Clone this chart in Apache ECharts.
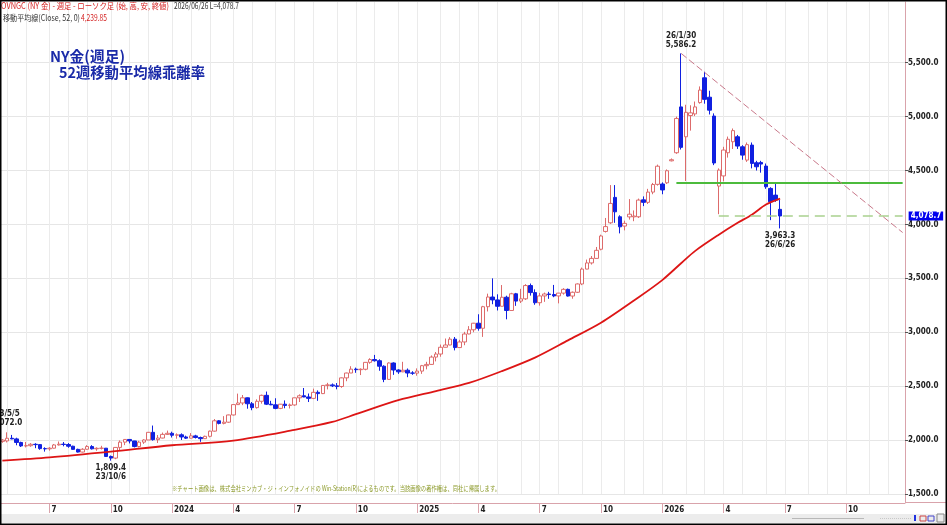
<!DOCTYPE html>
<html>
<head>
<meta charset="utf-8">
<script src="https://cdn.jsdelivr.net/npm/echarts@6.0.0/dist/echarts.min.js"></script>
<style>
  html, body { margin: 0; padding: 0; background: #fff; }
  #chart { width: 947px; height: 525px; }
</style>
</head>
<body>
<div id="chart"></div>
<script>
// weekly bars, first week 2023-04-28, axis runs to end of 2026
var weekCount = 192;
var weeks = [];
for (var k = 0; k < weekCount; k++) {
  weeks.push(new Date(Date.UTC(2023, 3, 28) + k * 7 * 864e5).toISOString().slice(0, 10));
}
var lastWeek = weeks[weeks.length - 1];

// [open, close, low, high]
var candles = [
  [1988,2000,1975,2010],[1992,2017,1978,2072.0],[2017,2011,2008,2048],[2011,1978,1952,2022],
  [1978,1946,1936,1985],[1946,1948,1932,1983],[1948,1961,1938,1972],[1961,1958,1925,1971],
  [1958,1921,1910,1959],[1921,1919,1893,1933],[1919,1925,1902,1935],[1925,1955,1922,1964],
  [1955,1962,1950,1987],[1962,1959,1942,1982],[1959,1943,1929,1972],[1943,1914,1911,1948],
  [1914,1889,1885,1920],[1889,1915,1885,1925],[1915,1940,1912,1953],[1940,1919,1913,1953],
  [1919,1924,1901,1933],[1924,1925,1913,1947],[1925,1848,1846,1926],[1848,1833,1809.4,1857],
  [1833,1932,1823,1933],[1932,1981,1908,1997],[1981,2006,1953,2009],[2006,1992,1969,2009],
  [1992,1940,1932,1993],[1940,1981,1932,1993],[1981,2001,1965,2008],[2001,2072,2001,2075],
  [2072,2004,1995,2135],[2004,2019,1973,2047],[2019,2053,2016,2070],[2053,2063,2047,2088],
  [2063,2045,2024,2078],[2045,2049,2013,2062],[2049,2029,2001,2062],[2029,2018,2010,2041],
  [2018,2039,2016,2065],[2039,2024,2015,2049],[2024,2013,1984,2032],[2013,2035,2011,2041],
  [2035,2083,2025,2088],[2083,2179,2079,2195],[2179,2155,2146,2185],[2155,2166,2146,2222],
  [2166,2233,2160,2236],[2233,2329,2228,2331],[2329,2344,2326,2431],[2344,2392,2324,2418],
  [2392,2337,2291,2395],[2337,2301,2277,2353],[2301,2360,2292,2378],[2360,2415,2338,2422],
  [2415,2333,2325,2450],[2333,2327,2324,2364],[2327,2294,2286,2388],[2294,2333,2287,2335],
  [2333,2321,2295,2368],[2321,2326,2293,2339],[2326,2392,2318,2392],[2392,2411,2353,2424],
  [2411,2400,2398,2483],[2400,2387,2353,2432],[2387,2443,2380,2477],[2443,2431,2364,2461],
  [2431,2507,2427,2509],[2507,2512,2470,2531],[2512,2503,2492,2525],[2503,2497,2471,2529],
  [2497,2577,2485,2581],[2577,2622,2546,2625],[2622,2658,2622,2685],[2658,2653,2624,2672],
  [2653,2657,2603,2665],[2657,2721,2647,2722],[2721,2747,2708,2759],[2747,2736,2728,2790],
  [2736,2685,2643,2749],[2685,2563,2537,2694],[2563,2715,2563,2721],[2715,2650,2605,2721],
  [2650,2633,2614,2657],[2633,2648,2630,2726],[2648,2622,2583,2664],[2622,2621,2605,2639],
  [2621,2640,2597,2665],[2640,2690,2614,2697],[2690,2702,2656,2726],[2702,2770,2698,2785],
  [2770,2798,2730,2817],[2798,2861,2773,2886],[2861,2882,2860,2942],[2882,2936,2880,2955],
  [2936,2858,2832,2956],[2858,2910,2857,2930],[2910,2984,2880,3004],[2984,3023,2982,3057],
  [3023,3084,3000,3087],[3084,3037,3015,3167],[3037,3237,2957,3245],[3237,3327,3193,3358],
  [3327,3300,3260,3500],[3300,3241,3202,3352],[3241,3325,3240,3438],[3325,3202,3120,3339],
  [3202,3357,3200,3366],[3357,3289,3245,3365],[3289,3310,3271,3403],[3310,3433,3300,3446],
  [3433,3368,3340,3452],[3368,3274,3255,3398],[3274,3337,3247,3365],[3337,3355,3282,3368],
  [3355,3350,3310,3375],[3350,3337,3325,3439],[3337,3363,3268,3365],[3363,3398,3349,3409],
  [3398,3336,3331,3405],[3336,3371,3311,3378],[3371,3448,3364,3453],[3448,3586,3437,3600],
  [3586,3643,3584,3674],[3643,3685,3628,3707],[3685,3760,3684,3791],[3770,3893,3760,3905],
  [3935,3980,3925,4060],[4015,4195,4005,4365],[4251,4117,4015,4365],[4071,3978,3917,4085],
  [3985,4010,3945,4035],[4070,4095,4045,4235],[4070,4078,4030,4130],[4071,4226,4060,4240],
  [4228,4205,4170,4260],[4205,4300,4190,4330],[4300,4370,4280,4385],[4372,4540,4360,4555],
  [4375,4320,4280,4390],[4386,4498,4375,4510],[4590,4600,4585,4612],[4665,4983,4655,5000],
  [5090,4715,4695,5586.2],[4813,5040,4403,5110],[5010,5035,4870,5105],[5025,5090,5005,5140],
  [5130,5246,5120,5280],[5360,5160,5120,5416],[5180,5060,5020,5240],[5005,4570,4550,5030],
  [4356,4504,4095,4520],[4450,4690,4400,4720],[4665,4790,4620,4815],[4767,4870,4700,4890],
  [4813,4727,4700,4830],[4720,4643,4600,4735],[4597,4740,4580,4760],[4736,4566,4520,4760],
  [4572,4535,4500,4590],[4575,4560,4480,4590],[4541,4349,4330,4565],[4334,4210,4040,4345],
  [4272,4226,4210,4381],[4140,4078.7,3963.3,4226]
];

// 52 week moving average
var maPoints = [
  ['2023-04-28',1810],['2023-07-07',1840],['2023-10-06',1893],['2024-01-05',1952],
  ['2024-04-05',1996],['2024-07-05',2095],['2024-08-30',2168],['2024-10-04',2240],
  ['2024-12-06',2370],['2025-01-31',2455],['2025-03-21',2530],['2025-05-09',2640],
  ['2025-06-27',2765],['2025-08-15',2925],['2025-10-03',3088],['2025-11-28',3325],
  ['2026-01-02',3484],['2026-01-30',3640],['2026-02-20',3755],['2026-03-27',3905],
  ['2026-04-24',4015],['2026-05-15',4090],['2026-06-05',4185],['2026-06-26',4239.85]
];

var yTicks = [1500, 2000, 2500, 3000, 3500, 4000, 4500, 5000, 5500];

var peakMark = ['2026-01-30', 5586.2, '26/1/30\n5,586.2'];
var lowMark = ['2026-06-26', 3963.3, '3,963.3\n26/6/26'];
var oldLowMark = ['2023-10-06', 1809.4, '1,809.4\n23/10/6'];
var oldHighMark = ['2023-05-05', 2072.0, '23/5/5\n2,072.0'];
var resistLine = ['2026-01-23', 4390];
var lastLine = ['2026-03-27', 4078.7];
var trendLine = [['2026-01-30', 5586.2], [lastWeek, 3925]];

var numFont = '"DejaVu Sans Condensed", "DejaVu Sans Mono", sans-serif';
var jpFont = '"Noto Sans CJK JP", sans-serif';
var pink = '#d9a3ab';

function fmt1(v) {
  return Number(v).toLocaleString('en-US', { minimumFractionDigits: 1, maximumFractionDigits: 1 });
}
function dayOf(d) { return +d.slice(8, 10); }
function monthOf(d) { return +d.slice(5, 7); }
function monthStart(i, d) { return dayOf(d) <= 7; }
function quarterStart(i, d) { return dayOf(d) <= 7 && (monthOf(d) - 1) % 3 === 0; }

var measure = document.createElement('canvas').getContext('2d');
function fitText(text, x, y, size, family, weight, color, width) {
  var font = weight + ' ' + size + 'px ' + family;
  measure.font = font;
  var w = measure.measureText(text).width;
  return {
    type: 'text', x: x, y: y, scaleX: width / w, silent: true, z: 100,
    style: { text: text, font: font, fill: color, verticalAlign: 'middle', align: 'left' }
  };
}

var chart = echarts.init(document.getElementById('chart'));

var markLabel = {
  show: true, fontFamily: numFont, fontSize: 8, fontWeight: 'bold', color: '#222', lineHeight: 9
};

var option = {
  animation: false,
  backgroundColor: '#fff',
  grid: { left: 0, right: 42, top: 2, bottom: 31 },
  xAxis: {
    type: 'category',
    data: weeks,
    boundaryGap: true,
    offset: 9,
    axisLine: { lineStyle: { color: pink } },
    axisTick: { show: true, alignWithLabel: true, interval: quarterStart, length: 10, lineStyle: { color: pink } },
    axisLabel: {
      interval: quarterStart,
      formatter: function (d) { return monthOf(d) === 1 ? d.slice(0, 4) : String(monthOf(d)); },
      align: 'left', padding: [0, 0, 0, 2], margin: 3,
      fontFamily: numFont, fontSize: 8, fontWeight: 'bold', color: '#222'
    },
    splitLine: { show: true, interval: monthStart, alignWithLabel: true, lineStyle: { color: '#ebebeb', width: 1 } }
  },
  yAxis: {
    type: 'value',
    position: 'right',
    min: 1500, max: 6063, interval: 500,
    axisLine: { show: true, lineStyle: { color: pink } },
    axisTick: { show: true, length: 3, customValues: yTicks, lineStyle: { color: '#555' } },
    axisLabel: {
      customValues: yTicks, formatter: fmt1, margin: 3,
      fontFamily: numFont, fontSize: 8, fontWeight: 'bold', color: '#222'
    },
    splitLine: { show: true, customValues: yTicks, lineStyle: { color: '#e6e6e6' } }
  },
  series: [
    {
      type: 'candlestick',
      data: candles,
      barWidth: 4,
      clip: false,
      itemStyle: {
        color: '#ffffff', color0: '#1020e0',
        borderColor: '#dd6b6b', borderColor0: '#1020e0', borderWidth: 1
      },
      markPoint: {
        symbol: 'circle', symbolSize: 0, silent: true,
        label: markLabel,
        data: [
          { coord: [peakMark[0], peakMark[1]], label: { position: 'top', distance: 4, formatter: peakMark[2] } },
          { coord: [lowMark[0], lowMark[1]], label: { position: 'bottom', distance: 3, formatter: lowMark[2] } },
          { coord: [oldLowMark[0], oldLowMark[1]], label: { position: 'bottom', distance: 3, formatter: oldLowMark[2] } },
          { coord: [oldHighMark[0], oldHighMark[1]], label: { position: 'top', distance: 5, formatter: oldHighMark[2] } }
        ]
      },
      markLine: {
        symbol: ['none', 'none'], silent: true,
        label: { show: false },
        data: [
          [
            { coord: resistLine, lineStyle: { color: '#4cbb3c', width: 2, type: 'solid' } },
            { coord: [lastWeek, resistLine[1]] }
          ],
          [
            {
              coord: lastLine,
              lineStyle: { color: '#a9d18e', width: 1.5, type: [10, 6] },
              label: {
                show: true, position: 'end', distance: 6, formatter: fmt1(lastLine[1]),
                color: '#fff', backgroundColor: '#0000ee', padding: [1, 2, 0, 2],
                fontFamily: numFont, fontSize: 8, fontWeight: 'bold'
              }
            },
            { coord: [lastWeek, lastLine[1]] }
          ],
          [
            { coord: trendLine[0], lineStyle: { color: '#c9788a', width: 1, type: [7, 3] } },
            { coord: trendLine[1] }
          ]
        ]
      }
    },
    {
      type: 'line',
      data: maPoints,
      smooth: 0.3,
      symbol: 'none',
      showSymbol: false,
      lineStyle: { color: '#dd1515', width: 1.8 },
      z: 3
    }
  ],
  graphic: [
    fitText('OVNGC (NY 金) - 週足 - ローソク足 (始, 高, 安, 終値)', 1, 6, 8.5, jpFont, 'normal', '#d42020', 168),
    fitText('2026/06/26 L=4,078.7', 174, 6, 8.5, jpFont, 'normal', '#333', 65),
    fitText('移動平均線(Close, 52, 0)', 3, 17.5, 8.5, jpFont, 'normal', '#333', 77),
    fitText('4,239.85', 81, 17.5, 8.5, jpFont, 'normal', '#d42020', 26),
    fitText('NY金(週足)', 50, 56, 15, jpFont, 'bold', '#1a2aa8', 75),
    fitText('52週移動平均線乖離率', 59, 72, 15, jpFont, 'bold', '#1a2aa8', 146),
    fitText('※チャート画像は、株式会社ミンカブ・ジ・インフォノイドの Win-Station(R)によるものです。当該画像の著作権は、同社に帰属します。',
      172, 488, 7, jpFont, 'normal', '#8c9a2a', 328),
    { type: 'line', silent: true, shape: { x1: 905, y1: 502.5, x2: 946, y2: 502.5 }, style: { stroke: pink, lineWidth: 1 } },
    { type: 'line', silent: true, shape: { x1: 905.5, y1: 494, x2: 905.5, y2: 503 }, style: { stroke: pink, lineWidth: 1 } },
    { type: 'rect', silent: true, shape: { x: 0, y: 514, width: 947, height: 9 }, style: { fill: '#ececec' } },
    { type: 'line', silent: true, shape: { x1: 792, y1: 518.5, x2: 864, y2: 518.5 }, style: { stroke: '#b8b8b8', lineWidth: 1 } },
    { type: 'line', silent: true, shape: { x1: 880, y1: 518.5, x2: 912, y2: 518.5 }, style: { stroke: '#c8c8c8', lineWidth: 1, lineDash: [1, 1] } },
    { type: 'rect', silent: true, shape: { x: 914, y: 515, width: 2, height: 6 }, style: { fill: '#2030e0' } },
    { type: 'rect', silent: true, shape: { x: 920, y: 516, width: 6, height: 5 }, style: { fill: 'none', stroke: '#c44', lineWidth: 1 } },
    { type: 'rect', silent: true, shape: { x: 928, y: 516, width: 6, height: 5 }, style: { fill: 'none', stroke: '#44c', lineWidth: 1 } },
    { type: 'rect', silent: true, shape: { x: 937, y: 514, width: 7, height: 8 }, style: { fill: 'none', stroke: '#888', lineWidth: 1 } },
    { type: 'rect', silent: true, z: 200, shape: { x: 0, y: 0, width: 947, height: 525 }, style: { fill: 'none', stroke: '#000', lineWidth: 3 } }
  ]
};

chart.setOption(option);
</script>
</body>
</html>
